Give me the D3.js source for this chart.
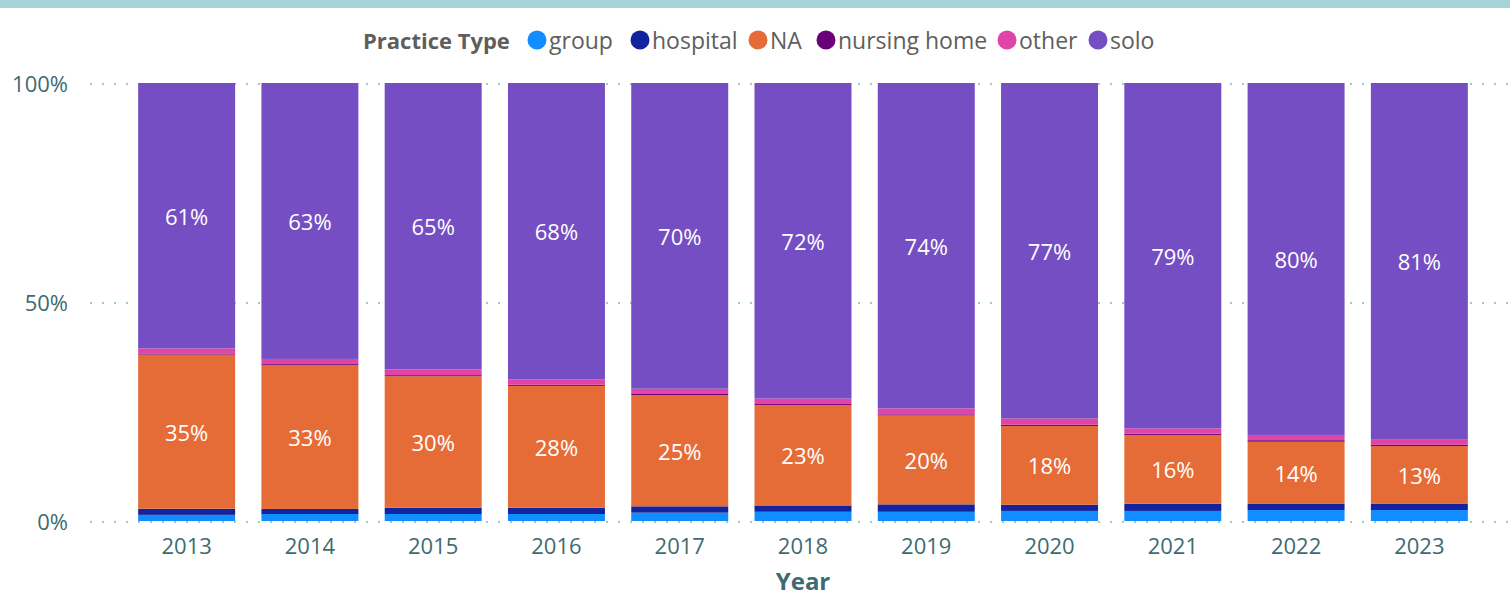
<!DOCTYPE html>
<html>
<head>
<meta charset="utf-8">
<script src="https://cdn.jsdelivr.net/npm/d3@7"></script>
<style>
  html, body { margin: 0; padding: 0; background: #ffffff; }
  svg { display: block; font-family: "Segoe UI", "Open Sans", "Noto Sans", sans-serif; }
</style>
</head>
<body>
<svg id="chart" width="1510" height="595"></svg>
<script>
// Share of providers by practice type, per year (percent)
const years = ["2013","2014","2015","2016","2017","2018","2019","2020","2021","2022","2023"];
const practiceTypes = ["group","hospital","NA","nursing home","other","solo"];
const group       = [1.4, 1.6, 1.6, 1.6, 1.9, 2.1, 2.1, 2.3, 2.3, 2.5, 2.5];
const hospital    = [1.4, 1.15, 1.45, 1.45, 1.45, 1.45, 1.7, 1.4, 1.65, 1.4, 1.4];
const naShare     = [35.2, 32.9, 30.0, 27.8, 25.4, 22.9, 20.3, 18.0, 15.7, 14.2, 13.2];
const nursingHome = [0.25, 0.2, 0.25, 0.25, 0.25, 0.25, 0.25, 0.3, 0.3, 0.35, 0.3];
const other       = [1.15, 1.15, 1.3, 1.2, 1.2, 1.25, 1.35, 1.4, 1.2, 1.2, 1.3];
const solo        = [60.6, 63.0, 65.4, 67.7, 69.8, 72.05, 74.3, 76.6, 78.85, 80.35, 81.3];
const yTicks = [0, 0.5, 1];
const labelledTypes = ["NA", "solo"];

const colors = {
  "group": "#118DFF",
  "hospital": "#12239E",
  "NA": "#E66C37",
  "nursing home": "#6B007B",
  "other": "#E044A7",
  "solo": "#744EC2"
};

const seriesValues = { "group": group, "hospital": hospital, "NA": naShare,
  "nursing home": nursingHome, "other": other, "solo": solo };

const rows = years.map((y, i) => {
  const r = { year: y };
  practiceTypes.forEach(t => { r[t] = seriesValues[t][i]; });
  return r;
});

const svg = d3.select("#chart");
const W = 1510, H = 595;
const margin = { top: 83, bottom: 74, left: 125, right: 29 };

// header band
svg.append("rect").attr("x", 0).attr("y", 0).attr("width", W).attr("height", 8).attr("fill", "#A6D3D9");

const x = d3.scaleBand().domain(years)
  .range([margin.left, W - margin.right])
  .paddingInner(0.2133).paddingOuter(0.1067);
const y = d3.scaleLinear().domain([0, 1]).range([H - margin.bottom, margin.top]);

const stack = d3.stack().keys(practiceTypes).offset(d3.stackOffsetExpand);
const layers = stack(rows);

// dotted gridlines
svg.append("g").selectAll("line").data(yTicks).join("line")
  .attr("x1", 90).attr("x2", W)
  .attr("y1", d => y(d) + 1).attr("y2", d => y(d) + 1)
  .attr("stroke", "#9CCAD0").attr("stroke-width", 2)
  .attr("stroke-dasharray", "2 10");

// y tick labels
svg.append("g").selectAll("text").data(yTicks).join("text")
  .attr("x", 68).attr("y", d => y(d))
  .attr("text-anchor", "end").attr("dominant-baseline", "central")
  .attr("font-size", 22).attr("fill", "#3E6B70")
  .text(d => d3.format(".0%")(d));

// bars
const layerG = svg.append("g").selectAll("g").data(layers).join("g")
  .attr("fill", d => colors[d.key]);
layerG.selectAll("rect").data(d => d).join("rect")
  .attr("x", d => x(d.data.year))
  .attr("width", x.bandwidth())
  .attr("y", d => y(d[1]))
  .attr("height", d => y(d[0]) - y(d[1]));

// data labels
const labelG = svg.append("g");
layers.filter(l => labelledTypes.includes(l.key)).forEach(l => {
  labelG.selectAll(null).data(l).join("text")
    .attr("x", d => x(d.data.year) + x.bandwidth() / 2)
    .attr("y", d => (y(d[0]) + y(d[1])) / 2)
    .attr("text-anchor", "middle").attr("dominant-baseline", "central")
    .attr("font-size", 22).attr("fill", "#ffffff")
    .text(d => d3.format(".0%")(d[1] - d[0]));
});

// x axis labels
svg.append("g").selectAll("text").data(years).join("text")
  .attr("x", d => x(d) + x.bandwidth() / 2)
  .attr("y", 545)
  .attr("text-anchor", "middle").attr("dominant-baseline", "central")
  .attr("font-size", 22).attr("fill", "#3E6B70")
  .text(d => d);

svg.append("text")
  .attr("x", (margin.left + W - margin.right) / 2).attr("y", 580)
  .attr("text-anchor", "middle").attr("dominant-baseline", "central")
  .attr("font-size", 24).attr("font-weight", "bold").attr("fill", "#3E6B70")
  .text("Year");

// legend
const legend = svg.append("g");
legend.append("text").attr("x", 363).attr("y", 40)
  .attr("dominant-baseline", "central").attr("font-size", 22)
  .attr("font-weight", "bold").attr("fill", "#605E5C").text("Practice Type");
const legendX = [537, 640, 758, 826, 1007, 1098];
practiceTypes.forEach((t, i) => {
  legend.append("circle").attr("cx", legendX[i]).attr("cy", 40).attr("r", 9.5)
    .attr("fill", colors[t]);
  legend.append("text").attr("x", legendX[i] + 12).attr("y", 40)
    .attr("dominant-baseline", "central").attr("font-size", 23)
    .attr("fill", "#605E5C").text(t);
});
</script>
</body>
</html>
